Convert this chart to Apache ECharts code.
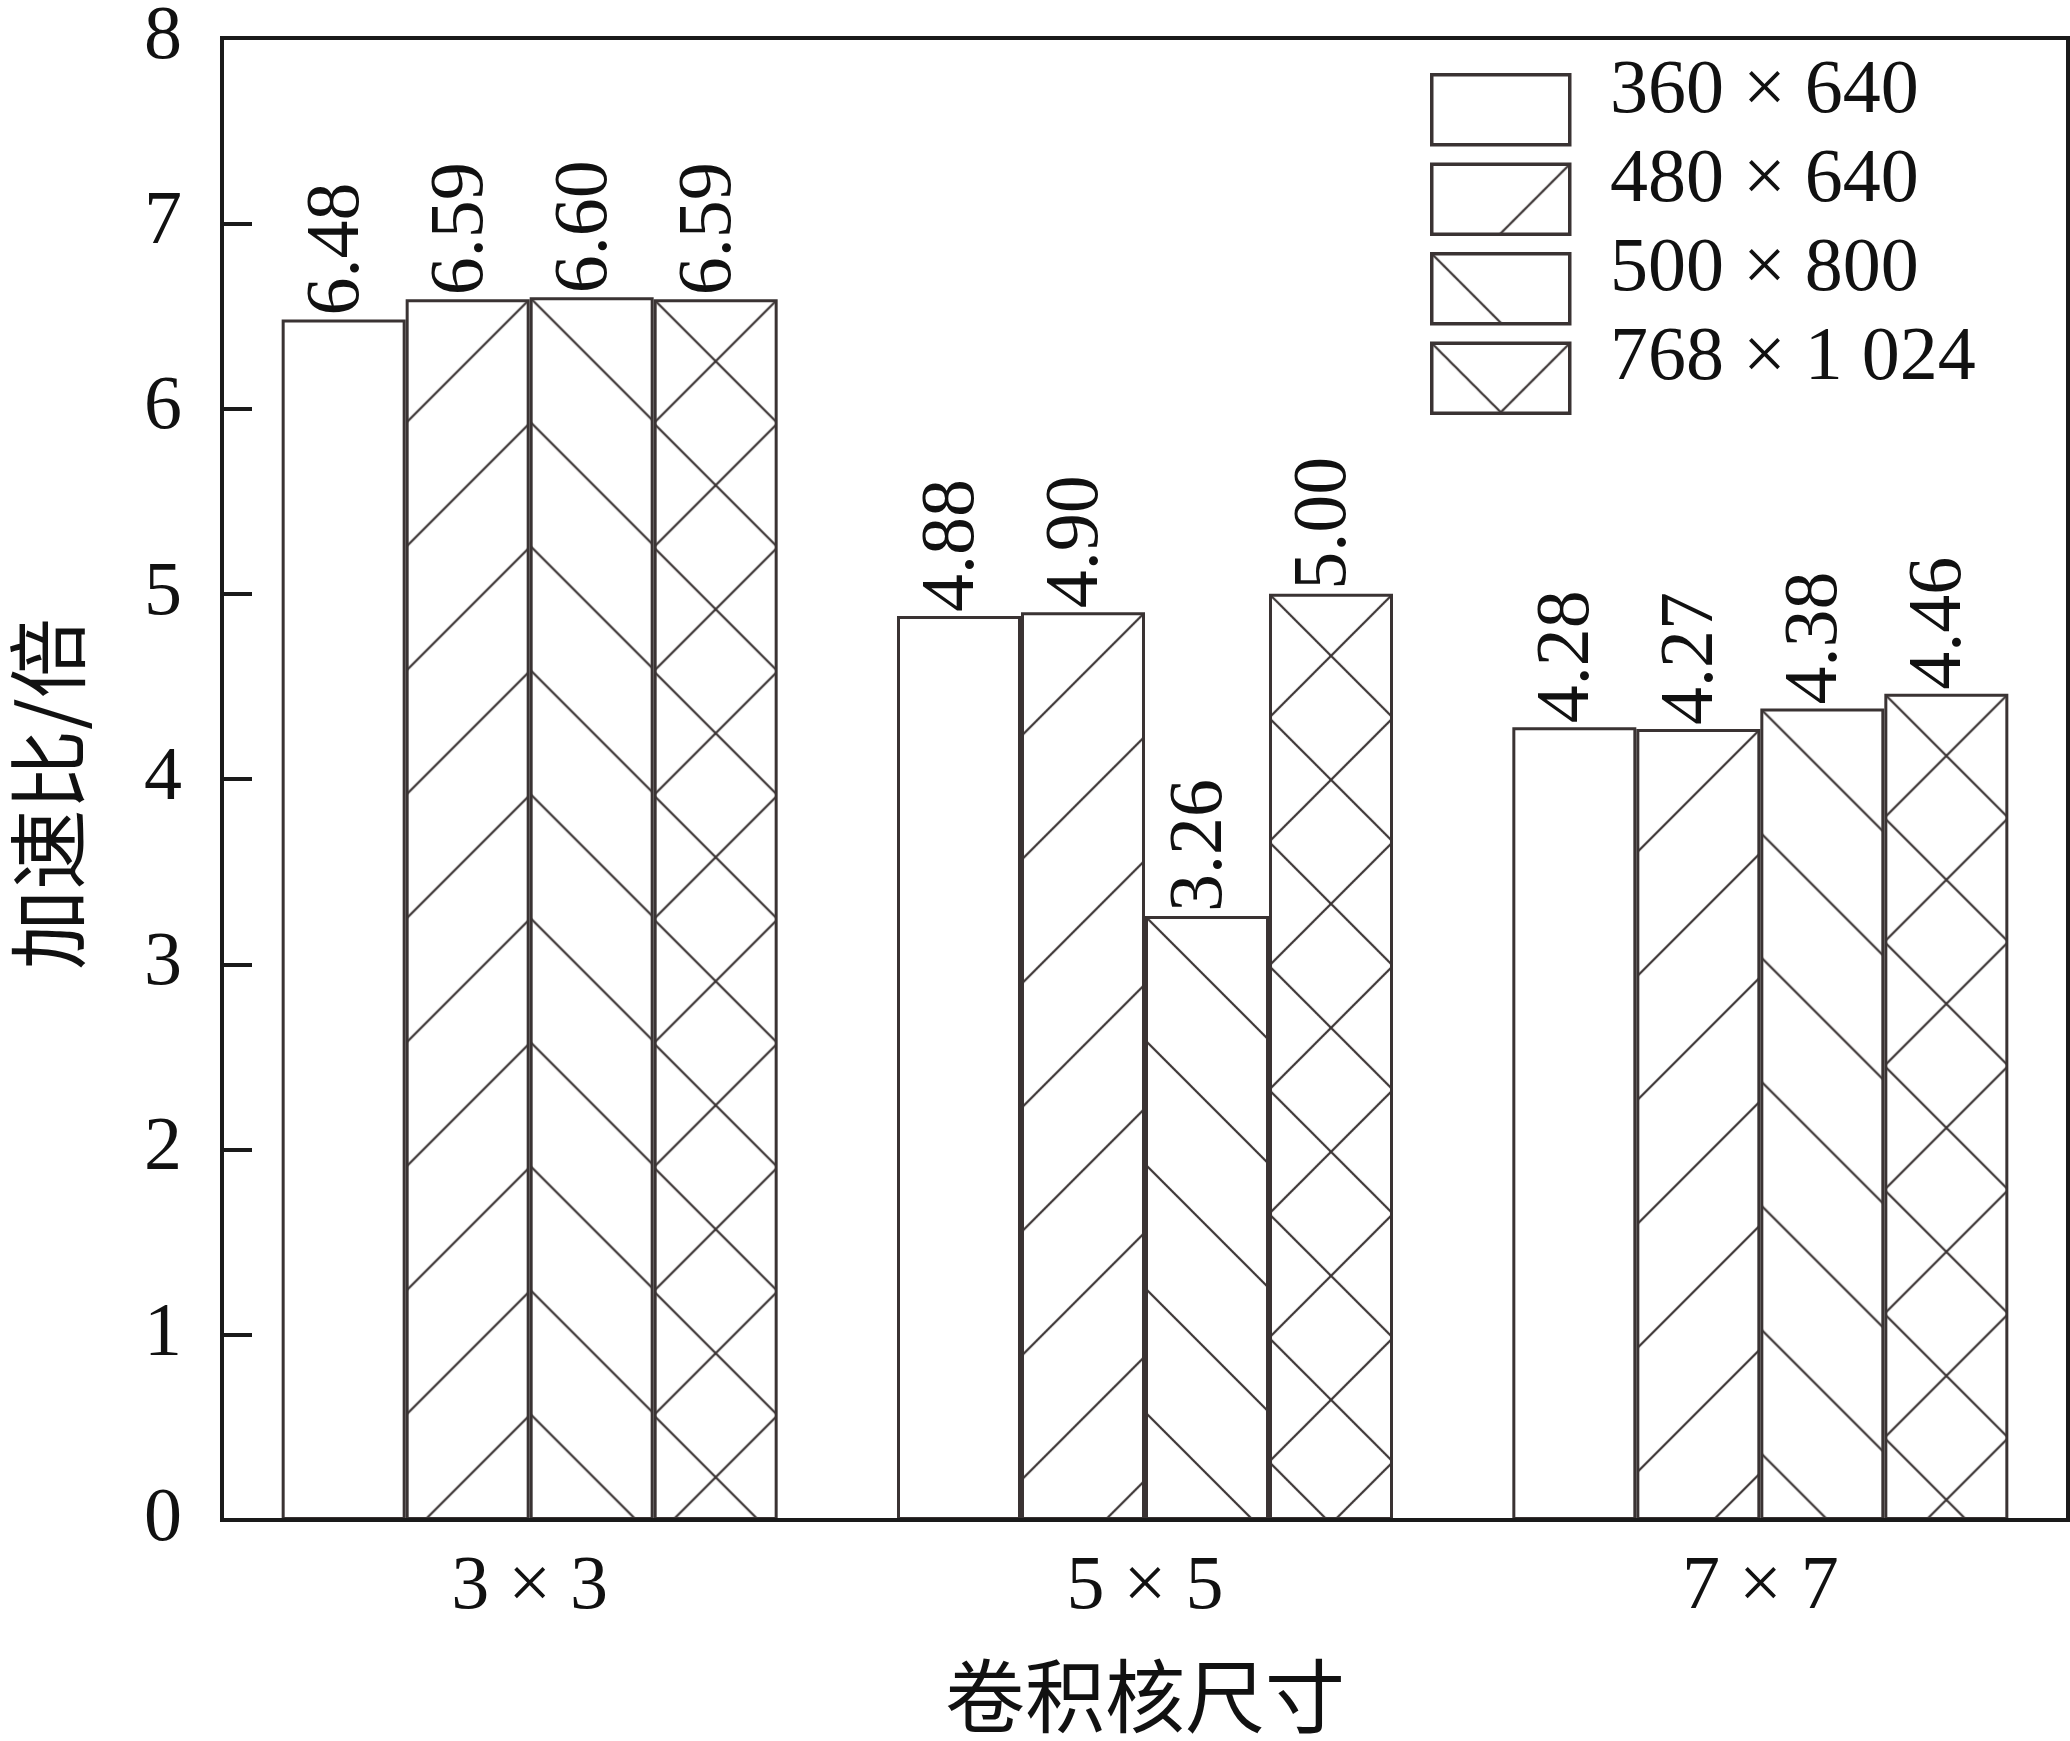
<!DOCTYPE html>
<html>
<head>
<meta charset="utf-8">
<title>加速比</title>
<script src="https://cdn.jsdelivr.net/npm/echarts@6/dist/echarts.min.js"></script>
<style>
  html, body { margin: 0; padding: 0; background: #fff; }
  #chart { width: 2070px; height: 1741px; }
</style>
</head>
<body>
<div id="chart"></div>
<script>
// 卷积核尺寸
const kernels = ['3 × 3', '5 × 5', '7 × 7']
// 图像尺寸 (图例)
const sizes = ['360 × 640', '480 × 640', '500 × 800', '768 × 1 024']
// 加速比/倍
const s360x640 = [6.48, 4.88, 4.28]
const s480x640 = [6.59, 4.90, 4.27]
const s500x800 = [6.60, 3.26, 4.38]
const s768x1024 = [6.59, 5.00, 4.46]
const yMin = 0
const yMax = 8
const yStep = 1

const seriesValues = [s360x640, s480x640, s500x800, s768x1024]
const hatches = ['none', 'fwd', 'back', 'cross']

const INK = '#1a1a1a'
const BAR_LINE = '#3a3333'
const NUM_FONT = 'Liberation Serif'
const CJK_FONT = 'Noto Sans CJK SC'
const BAR_W = 124

// hatch tile: '/' lines x+y=k*p, '\' lines y-x=k*p
function makeTile(kind, p) {
  const c = document.createElement('canvas')
  c.width = p
  c.height = p
  const ctx = c.getContext('2d')
  ctx.fillStyle = '#fff'
  ctx.fillRect(0, 0, p, p)
  ctx.strokeStyle = BAR_LINE
  ctx.lineWidth = 2.2
  ctx.beginPath()
  if (kind === 'fwd' || kind === 'cross') {
    for (let k = 0; k <= 2; k++) {
      ctx.moveTo(k * p + 3, -3)
      ctx.lineTo(-3, k * p + 3)
    }
  }
  if (kind === 'back' || kind === 'cross') {
    for (let k = -1; k <= 1; k++) {
      ctx.moveTo(-3, k * p - 3)
      ctx.lineTo(p + 3, k * p + p + 3)
    }
  }
  ctx.stroke()
  return c
}

function fillFor(kind, p, x, y) {
  if (kind === 'none') return '#fff'
  return { image: makeTile(kind, p), repeat: 'repeat', x: x || 0, y: y || 0 }
}

const chart = echarts.init(document.getElementById('chart'), null, { renderer: 'canvas' })

function buildSeries(withAnchor) {
  return seriesValues.map((vals, i) => ({
    name: sizes[i],
    type: 'bar',
    barWidth: BAR_W,
    barGap: '0%',
    itemStyle: {
      color: fillFor(hatches[i], BAR_W),
      borderColor: BAR_LINE,
      borderWidth: 3
    },
    label: {
      show: true,
      position: 'top',
      rotate: 90,
      align: 'left',
      verticalAlign: 'middle',
      distance: 4,
      offset: [0, -6], // rotated frame: nudges the text a bit to the left
      fontFamily: NUM_FONT,
      fontSize: 76,
      color: '#111',
      formatter: p => Number(p.value).toFixed(2)
    },
    data: vals.map((v, j) => {
      if (!withAnchor) return v
      // anchor the hatch at the bar's top-left corner
      const cx = chart.convertToPixel({ xAxisIndex: 0 }, kernels[j])
      const top = chart.convertToPixel({ yAxisIndex: 0 }, v)
      const left = cx + (i - 2) * BAR_W
      return { value: v, itemStyle: { color: fillFor(hatches[i], BAR_W, left, top) } }
    })
  }))
}

const option = {
  animation: false,
  backgroundColor: '#fff',
  textStyle: { fontFamily: NUM_FONT },
  grid: {
    left: 213,
    right: 2,
    top: 32,
    bottom: 214,
    show: true,
    borderColor: INK,
    borderWidth: 4,
    backgroundColor: 'transparent'
  },
  legend: [
    // boxes only
    {
      orient: 'vertical',
      left: 1425,
      top: 68,
      itemWidth: 138,
      itemHeight: 70,
      itemGap: 16,
      selectedMode: false,
      formatter: () => '',
      textStyle: { fontSize: 10 },
      data: sizes.map((name, i) => ({
        name: name,
        icon: 'rect',
        itemStyle: {
          color: fillFor(hatches[i], 138),
          borderColor: BAR_LINE,
          borderWidth: 3.5
        }
      }))
    },
    // names only, sitting a little higher than the boxes
    {
      orient: 'vertical',
      left: 1600,
      top: 49,
      itemWidth: 0,
      itemHeight: 76,
      itemGap: 13,
      selectedMode: false,
      textStyle: { fontFamily: NUM_FONT, fontSize: 76, color: '#111' },
      data: sizes.map(name => ({
        name: name,
        icon: 'none',
        itemStyle: { color: 'transparent', borderWidth: 0 }
      }))
    }
  ],
  xAxis: {
    type: 'category',
    data: kernels,
    name: '卷积核尺寸',
    nameLocation: 'middle',
    nameGap: 136,
    nameTextStyle: { fontFamily: CJK_FONT, fontSize: 80, color: '#111' },
    axisLine: { lineStyle: { color: INK, width: 4 } },
    axisTick: { show: false },
    axisLabel: { fontFamily: NUM_FONT, fontSize: 76, color: '#111', margin: 30 },
    z: 10
  },
  yAxis: {
    type: 'value',
    min: yMin,
    max: yMax,
    interval: yStep,
    name: '加速比/倍',
    nameLocation: 'middle',
    nameGap: 134,
    nameRotate: 90,
    nameTextStyle: { fontFamily: CJK_FONT, fontSize: 80, color: '#111', padding: [0, 30, 0, 0] },
    axisLine: { show: true, lineStyle: { color: INK, width: 4 } },
    axisTick: { show: true, inside: true, length: 30, lineStyle: { color: INK, width: 4 } },
    axisLabel: { fontFamily: NUM_FONT, fontSize: 76, color: '#111', margin: 40 },
    splitLine: { show: false },
    z: 10
  },
  series: buildSeries(false)
}

chart.setOption(option)
// second pass: now that the axes exist, pin each hatch to its bar
chart.setOption({ series: buildSeries(true) })
</script>
</body>
</html>
